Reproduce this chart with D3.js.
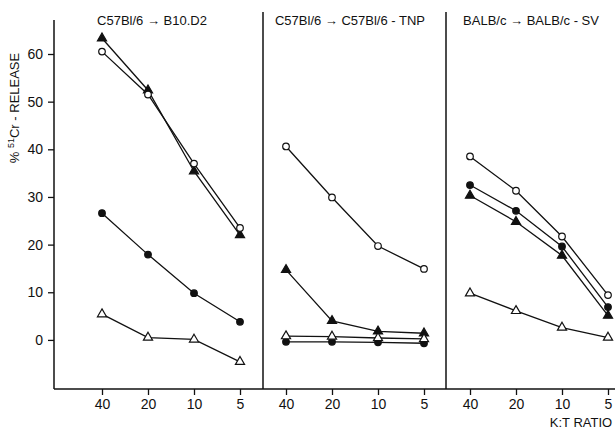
<!DOCTYPE html>
<html>
<head>
<meta charset="utf-8">
<script src="https://cdn.jsdelivr.net/npm/d3@7"></script>
<style>
  body { margin: 0; background: #fff; }
  svg text { font-family: "Liberation Sans", Arial, sans-serif; fill: #111; }
</style>
</head>
<body>
<div id="chart"></div>
<script>
// K:T ratios on the x axis of each panel
const ratios = ["40", "20", "10", "5"];
const panelTitles = ["C57Bl/6 \u2192 B10.D2", "C57Bl/6 \u2192 C57Bl/6 - TNP", "BALB/c \u2192 BALB/c - SV"];
const yTicks = [0, 10, 20, 30, 40, 50, 60];

// % 51Cr release, one row per panel
const openCircles     = [[60.5, 51.5, 37.0, 23.5], [40.6, 29.9, 19.7, 14.9], [38.5, 31.3, 21.7, 9.4]];
const filledCircles   = [[26.6, 17.9, 9.8, 3.8],   [-0.4, -0.4, -0.5, -0.7], [32.5, 27.1, 19.6, 6.9]];
const filledTriangles = [[63.3, 52.4, 35.4, 22.0], [14.7, 4.0, 1.8, 1.4],    [30.3, 24.8, 17.7, 5.1]];
const openTriangles   = [[5.4, 0.5, 0.1, -4.6],    [0.8, 0.7, 0.4, 0.2],     [9.8, 6.1, 2.6, 0.5]];

const width = 615, height = 429;
const svg = d3.select('#chart').append('svg')
    .attr('width', width)
    .attr('height', height);

const axisX = 54, baseY = 389;
const y = d3.scaleLinear().domain([-10.3, 60]).range([baseY, 54]);
const xIn = d3.scalePoint().domain(ratios).range([0, 138]);
const panelStart = d3.scalePoint().domain([0, 1, 2]).range([102, 470]);

// frame lines
svg.append('line').attr('x1', axisX).attr('x2', axisX).attr('y1', 20).attr('y2', baseY)
    .attr('stroke', '#111').attr('stroke-width', 1.5);
svg.append('line').attr('x1', axisX).attr('x2', 615).attr('y1', baseY).attr('y2', baseY)
    .attr('stroke', '#111').attr('stroke-width', 1.5);
[263, 446].forEach(d => {
    svg.append('line').attr('x1', d).attr('x2', d).attr('y1', 12).attr('y2', baseY)
        .attr('stroke', '#111').attr('stroke-width', 1.5);
});

// y axis
const yAxis = svg.append('g')
    .attr('transform', `translate(${axisX},0)`)
    .call(d3.axisLeft(y).tickValues(yTicks).tickSize(6).tickPadding(5));
yAxis.select('.domain').remove();
yAxis.selectAll('line').attr('stroke', '#111').attr('stroke-width', 1.3);
yAxis.selectAll('text').style('font-size', '14px').attr('fill', '#111');

svg.append('text')
    .attr('transform', 'translate(19,108) rotate(-90)')
    .attr('text-anchor', 'middle')
    .style('font-size', '13px')
    .html('% <tspan dy="-5" font-size="9">51</tspan><tspan dy="5">Cr - RELEASE</tspan>');

const symTri = d3.symbol().type(d3.symbolTriangle).size(36);

panelTitles.forEach((title, p) => {
    const x0 = panelStart(p);
    const g = svg.append('g').attr('transform', `translate(${x0},0)`);

    const xAxis = g.append('g')
        .attr('transform', `translate(0,${baseY})`)
        .call(d3.axisBottom(xIn).tickSize(6).tickPadding(4));
    xAxis.select('.domain').remove();
    xAxis.selectAll('line').attr('stroke', '#111').attr('stroke-width', 1.3);
    xAxis.selectAll('text').style('font-size', '14px').attr('fill', '#111');

    g.append('text')
        .attr('x', 50 + [0, 14, 11][p])
        .attr('y', 25)
        .attr('text-anchor', 'middle')
        .style('font-size', '13px')
        .text(title);

    const series = [
        { vals: filledTriangles[p], mark: 'tri', fill: '#111' },
        { vals: openCircles[p], mark: 'circle', fill: '#fff' },
        { vals: filledCircles[p], mark: 'circle', fill: '#111' },
        { vals: openTriangles[p], mark: 'tri', fill: '#fff' }
    ];

    const line = d3.line()
        .x((d, i) => xIn(ratios[i]))
        .y(d => y(d));

    series.forEach(s => {
        g.append('path')
            .attr('d', line(s.vals))
            .attr('fill', 'none')
            .attr('stroke', '#111')
            .attr('stroke-width', 1.3);
    });

    series.forEach(s => {
        if (s.mark === 'circle') {
            g.selectAll(null).data(s.vals).enter()
                .append('circle')
                .attr('cx', (d, i) => xIn(ratios[i]))
                .attr('cy', d => y(d))
                .attr('r', 3.3)
                .attr('fill', s.fill)
                .attr('stroke', '#111')
                .attr('stroke-width', 1.2);
        } else {
            g.selectAll(null).data(s.vals).enter()
                .append('path')
                .attr('d', symTri)
                .attr('transform', (d, i) => `translate(${xIn(ratios[i])},${y(d)})`)
                .attr('fill', s.fill)
                .attr('stroke', '#111')
                .attr('stroke-width', 1.2);
        }
    });
});

svg.append('text')
    .attr('x', 581)
    .attr('y', 427)
    .attr('text-anchor', 'middle')
    .style('font-size', '13px')
    .text('K:T RATIO');
</script>
</body>
</html>
